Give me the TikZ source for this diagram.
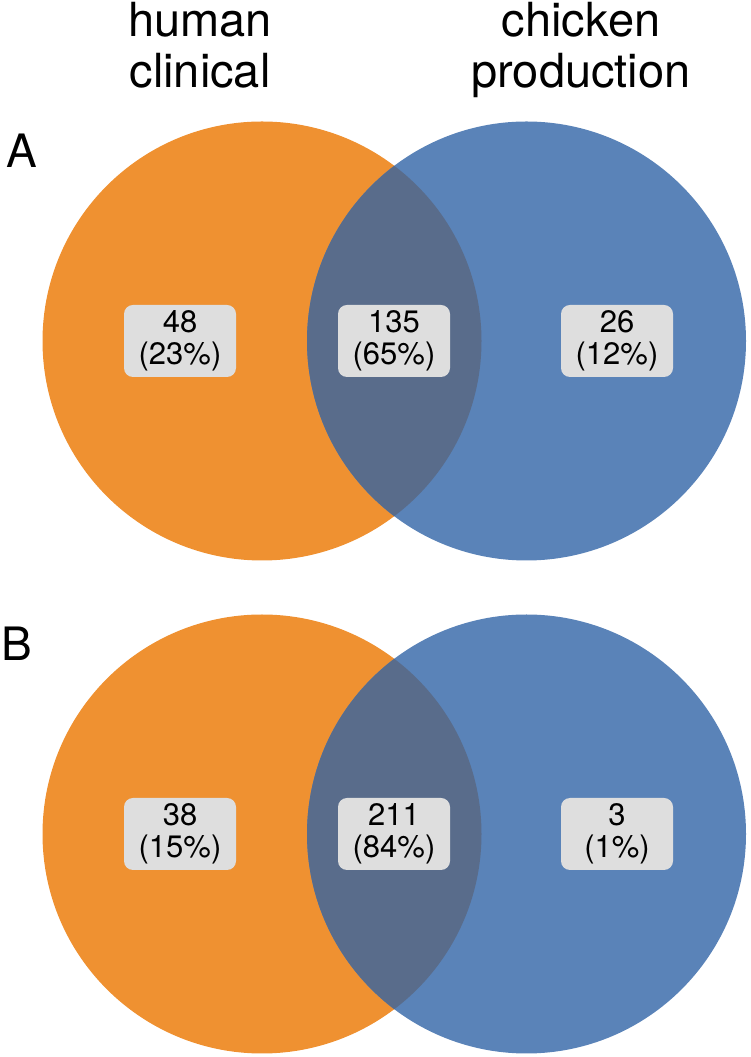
\documentclass[tikz,border=0pt]{standalone}
\usepackage{fontspec}
\setmainfont{TeX Gyre Heros}
\usetikzlibrary{positioning}
\definecolor{humanorange}{HTML}{EF9131}
\definecolor{chickenblue}{HTML}{5A83B8}
\definecolor{overlapblue}{HTML}{596C8B}
\definecolor{boxgray}{HTML}{DEDEDE}

\begin{document}
\begin{tikzpicture}[
    x=1pt, y=1pt,
    countbox/.style={rectangle, rounded corners=9pt, fill=boxgray, minimum width=112pt,
                     minimum height=72pt, align=center, inner sep=0pt,
                     font=\fontsize{31}{32}\selectfont},
    title/.style={align=center, inner sep=0pt, font=\fontsize{47}{51}\selectfont},
    panel/.style={inner sep=0pt, font=\fontsize{46}{46}\selectfont}
  ]
    \useasboundingbox (0,0) rectangle (750,1057);

    \node[title, anchor=north] (human)   at (200,1055) {human\\clinical};
    \node[title, anchor=north] (chicken) at (581,1055) {chicken\\production};

    % one Venn diagram per panel
    \foreach \yc/\xl/\lbl/\numL/\numM/\numR/\perL/\perM/\perR in
        {716/22/A/48/135/26/23/65/12, 223/17/B/38/211/3/15/84/1}{
      \fill[humanorange] (262,\yc) circle (219.5);
      \fill[chickenblue] (526.5,\yc) circle (219.5);
      \begin{scope}
        \clip (262,\yc) circle (219.5);
        \fill[overlapblue] (526.5,\yc) circle (219.5);
      \end{scope}
      \node[panel] (panel\lbl) at (\xl,\yc+190) {\lbl};
      \node[countbox] (left\lbl)  at (180,\yc)   {\numL\\(\perL\%)};
      \node[countbox] (mid\lbl)   at (394,\yc)   {\numM\\(\perM\%)};
      \node[countbox] (right\lbl) at (617,\yc)   {\numR\\(\perR\%)};
    }
  \end{tikzpicture}
\end{document}
